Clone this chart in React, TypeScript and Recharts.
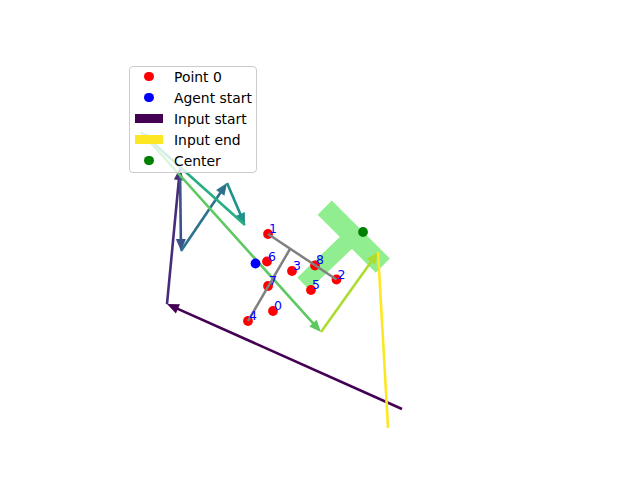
import { ScatterChart, Scatter, XAxis, YAxis, Legend } from "recharts";

// numbered target points
const pointIds = [0, 1, 2, 3, 4, 5, 6, 7, 8];
const pointX = [3.665, 3.544, 5.206, 4.126, 3.058, 4.587, 3.519, 3.544, 4.684];
const pointY = [2.846, 4.719, 3.612, 3.819, 2.603, 3.357, 4.05, 3.454, 3.953];

const agentX = [3.24];
const agentY = [4.001];

const centerX = [5.85];
const centerY = [4.768];

// input path, drawn as arrows from one vertex to the next
const pathX = [6.796, 1.092, 1.408, 1.432, 2.549, 2.985, 0.461, 4.83, 6.214, 6.481];
const pathY = [0.462, 3.016, 6.325, 4.306, 5.96, 4.938, 7.2, 2.335, 4.281, -0.414];
const pathColors = ["#440154", "#472c7a", "#3b528b", "#2c728e", "#21918c", "#28ae80", "#5ec962", "#addc30", "#fde725"];

// gray connector lines
const linkX = [[3.544, 5.206], [3.058, 4.078]];
const linkY = [[4.719, 3.612], [2.603, 4.354]];

// light green region (arm + branch)
const regionX = [[4.92, 6.33], [5.607, 4.4]];
const regionY = [[5.36, 3.95], [4.67, 3.51]];

const legendLabels = ["Point 0", "Agent start", "Input start", "Input end", "Center"];
const legendColors = ["#ff0000", "#0000ff", "#440154", "#fde725", "#008000"];
const legendKinds = ["dot", "dot", "patch", "patch", "dot"];

const FONT = "DejaVu Sans, sans-serif";

const toRows = (xs: number[], ys: number[]) => xs.map((x, i) => ({ x, y: ys[i] }));
const points = pointIds.map((id, i) => ({ id, x: pointX[i], y: pointY[i] }));
const segments = pathColors.map((_, i) => [
  { x: pathX[i], y: pathY[i] },
  { x: pathX[i + 1], y: pathY[i + 1] },
]);

const noShape = () => <g />;

const arrowLine = (color: string) => (props: any) => {
  const pts = props.points;
  if (!pts || pts.length < 2) return <g />;
  const a = pts[0];
  const b = pts[1];
  const dx = b.x - a.x;
  const dy = b.y - a.y;
  const len = Math.hypot(dx, dy) || 1;
  const ux = dx / len;
  const uy = dy / len;
  const hl = 12;
  const hw = 5;
  const bx = b.x - ux * hl;
  const by = b.y - uy * hl;
  return (
    <g>
      <line x1={a.x} y1={a.y} x2={bx + ux * 2} y2={by + uy * 2} stroke={color} strokeWidth={2.6} />
      <polygon
        points={`${b.x},${b.y} ${bx - uy * hw},${by + ux * hw} ${bx + uy * hw},${by - ux * hw}`}
        fill={color}
      />
    </g>
  );
};

const plainLine = (color: string, w: number) => (props: any) => {
  const pts = props.points;
  if (!pts || pts.length < 2) return <g />;
  return (
    <line x1={pts[0].x} y1={pts[0].y} x2={pts[1].x} y2={pts[1].y} stroke={color} strokeWidth={w} strokeLinecap="butt" />
  );
};

const dot = (color: string) => (p: any) => <circle cx={p.cx} cy={p.cy} r={4.9} fill={color} />;

const numberLabel = (p: any) => (
  <text x={p.cx + 1} y={p.cy - 1} fill="#0000ff" fontSize={12.5} fontFamily={FONT}>
    {p.payload.id}
  </text>
);

function LegendBox() {
  return (
    <div
      style={{
        position: "relative",
        width: 128,
        height: 107,
        boxSizing: "border-box",
        border: "1px solid #cccccc",
        borderRadius: 4,
        background: "rgba(255,255,255,0.8)",
        fontFamily: FONT,
        fontSize: 13.9,
        color: "#000",
      }}
    >
      {legendLabels.map((label, i) => {
        const cy = 9.5 + 21 * i;
        return (
          <div key={label}>
            {legendKinds[i] === "dot" ? (
              <div
                style={{
                  position: "absolute",
                  left: 19 - 4.9,
                  top: cy - 4.9,
                  width: 9.8,
                  height: 9.8,
                  borderRadius: "50%",
                  background: legendColors[i],
                }}
              />
            ) : (
              <div
                style={{
                  position: "absolute",
                  left: 5,
                  top: cy - 4.85,
                  width: 28,
                  height: 9.7,
                  background: legendColors[i],
                }}
              />
            )}
            <div
              style={{
                position: "absolute",
                left: 44,
                top: cy - 7.75,
                lineHeight: "16px",
                whiteSpace: "nowrap",
              }}
            >
              {label}
            </div>
          </div>
        );
      })}
    </div>
  );
}

export default function App() {
  return (
    <div style={{ position: "absolute", left: 0, top: 0, background: "#fff" }}>
      <ScatterChart width={640} height={480} margin={{ top: 58, right: 106, bottom: 52, left: 122 }}>
        <XAxis type="number" dataKey="x" domain={[0, 10]} hide allowDataOverflow />
        <YAxis type="number" dataKey="y" domain={[0, 9]} hide allowDataOverflow />

        {regionX.map((xs, i) => (
          <Scatter
            key={`region-${i}`}
            data={toRows(xs, regionY[i])}
            line={plainLine("#90ee90", i === 0 ? 20 : 17)}
            shape={noShape}
            isAnimationActive={false}
          />
        ))}

        {segments.map((seg, i) => (
          <Scatter
            key={`seg-${i}`}
            data={seg}
            line={arrowLine(pathColors[i])}
            shape={noShape}
            isAnimationActive={false}
          />
        ))}

        <Scatter data={points} shape={dot("#ff0000")} isAnimationActive={false} />
        <Scatter data={toRows(agentX, agentY)} shape={dot("#0000ff")} isAnimationActive={false} />
        <Scatter data={toRows(centerX, centerY)} shape={dot("#008000")} isAnimationActive={false} />

        {linkX.map((xs, i) => (
          <Scatter
            key={`link-${i}`}
            data={toRows(xs, linkY[i])}
            line={plainLine("#808080", 2.5)}
            shape={noShape}
            isAnimationActive={false}
          />
        ))}

        <Scatter data={points} shape={numberLabel} isAnimationActive={false} />

        <Legend
          layout="vertical"
          align="center"
          verticalAlign="middle"
          wrapperStyle={{ left: 129, top: 66, right: "auto", bottom: "auto", width: 128, height: 107 }}
          content={() => <LegendBox />}
        />
      </ScatterChart>
    </div>
  );
}
